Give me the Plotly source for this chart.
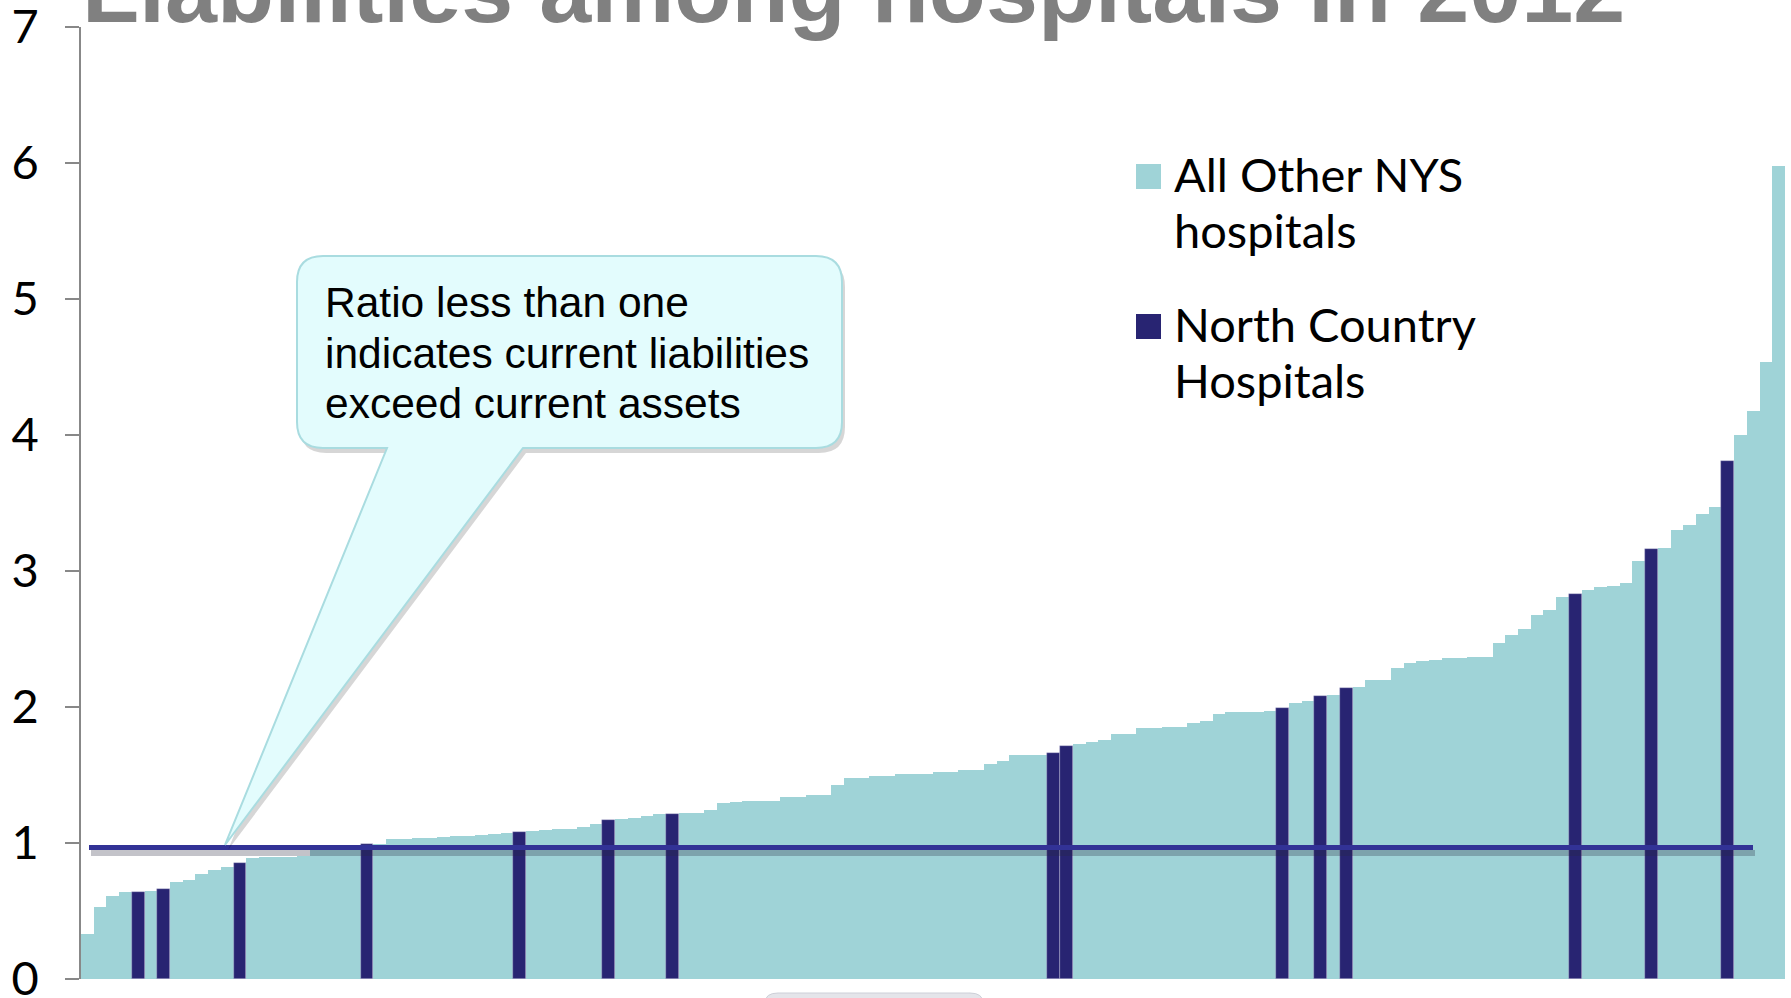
import plotly.graph_objects as go

# current ratio of every NYS hospital in 2012, sorted low -> high
ratios = [
    0.33, 0.53, 0.61, 0.64, 0.64, 0.65, 0.66, 0.71, 0.73, 0.77,
    0.80, 0.82, 0.85, 0.89, 0.895, 0.90, 0.90, 0.905, 0.95, 0.96,
    0.97, 0.97, 0.99, 0.995, 1.03, 1.03, 1.035, 1.04, 1.045, 1.05,
    1.055, 1.06, 1.065, 1.07, 1.08, 1.09, 1.095, 1.10, 1.105, 1.12,
    1.14, 1.17, 1.18, 1.185, 1.20, 1.21, 1.215, 1.22, 1.22, 1.24,
    1.295, 1.30, 1.31, 1.31, 1.31, 1.34, 1.34, 1.355, 1.355, 1.43,
    1.48, 1.48, 1.495, 1.495, 1.51, 1.51, 1.51, 1.525, 1.525, 1.54,
    1.54, 1.58, 1.60, 1.645, 1.645, 1.645, 1.66, 1.71, 1.725, 1.74,
    1.76, 1.80, 1.805, 1.845, 1.845, 1.85, 1.855, 1.885, 1.90, 1.95,
    1.96, 1.965, 1.965, 1.97, 1.99, 2.03, 2.045, 2.08, 2.085, 2.14,
    2.15, 2.195, 2.20, 2.285, 2.32, 2.34, 2.345, 2.36, 2.36, 2.365,
    2.37, 2.47, 2.53, 2.57, 2.68, 2.71, 2.81, 2.83, 2.86, 2.88,
    2.89, 2.91, 3.07, 3.16, 3.17, 3.30, 3.34, 3.42, 3.47, 3.81,
    4.00, 4.18, 4.54, 5.98,
]
# positions (rank) of the North Country hospitals in the sorted list
north_country_ranks = [4, 6, 12, 22, 34, 41, 46, 76, 77, 94, 97, 99, 117, 123, 129]

y_ticks = [0, 1, 2, 3, 4, 5, 6, 7]
threshold = 0.967  # the drawn "ratio = 1" line sits a hair under 1 on the slide

title_text = "Liabilities among hospitals in 2012"
callout_lines = ["Ratio less than one", "indicates current liabilities", "exceed current assets"]
legend_labels = [["All Other NYS", "hospitals"], ["North Country", "Hospitals"]]

teal = "#9FD3D7"
navy = "#282472"
line_blue = "#323296"

W, H = 1791, 998
L, R, T, B = 81, 6, 27, 19
pw, ph = W - L - R, H - T - B


def px(x):
    return (x - L) / pw


def py(y):
    return (H - B - y) / ph


def path(points):
    # points are (cmd, x, y, ...) in screen pixels -> plotly paper path
    out = []
    for p in points:
        cmd, coords = p[0], p[1:]
        parts = []
        for i in range(0, len(coords), 2):
            parts.append(f"{px(coords[i]):.5f},{py(coords[i + 1]):.5f}")
        out.append(cmd + " ".join(parts))
    return " ".join(out) + " Z"


others_x = [i for i in range(len(ratios)) if i not in north_country_ranks]
others_y = [ratios[i] for i in others_x]
nc_y = [ratios[i] for i in north_country_ranks]

fig = go.Figure()
fig.add_trace(go.Bar(x=others_x, y=others_y, width=1, name="All Other NYS hospitals",
                     marker=dict(color=teal, line=dict(width=0))))
fig.add_trace(go.Bar(x=north_country_ranks, y=nc_y, width=1, name="North Country Hospitals",
                     marker=dict(color=navy, line=dict(width=0.6, color="rgba(190,190,220,0.7)"))))

shapes = []
# threshold line + its drop shadow
shapes.append(dict(type="line", xref="paper", yref="y", x0=px(91), x1=px(1755),
                   y0=threshold - 0.04, y1=threshold - 0.04,
                   line=dict(color="rgba(40,40,60,0.28)", width=6), layer="above"))
shapes.append(dict(type="line", xref="paper", yref="y", x0=px(89), x1=px(1753),
                   y0=threshold, y1=threshold,
                   line=dict(color=line_blue, width=5), layer="above"))

# callout bubble
bx0, bx1, by0, by1, r = 297, 842, 256, 448, 26
tail = (387, 523, 225, 845)


def bubble(dx=0, dy=0):
    return path([
        ("M", bx0 + r + dx, by0 + dy),
        ("L", bx1 - r + dx, by0 + dy),
        ("Q", bx1 + dx, by0 + dy, bx1 + dx, by0 + r + dy),
        ("L", bx1 + dx, by1 - r + dy),
        ("Q", bx1 + dx, by1 + dy, bx1 - r + dx, by1 + dy),
        ("L", tail[1] + dx, by1 + dy),
        ("L", tail[2] + dx, tail[3] + dy),
        ("L", tail[0] + dx, by1 + dy),
        ("L", bx0 + r + dx, by1 + dy),
        ("Q", bx0 + dx, by1 + dy, bx0 + dx, by1 - r + dy),
        ("L", bx0 + dx, by0 + r + dy),
        ("Q", bx0 + dx, by0 + dy, bx0 + r + dx, by0 + dy),
    ])


shapes.append(dict(type="path", xref="paper", yref="paper", path=bubble(3, 5),
                   fillcolor="rgba(0,0,0,0.16)", line=dict(width=0), layer="above"))
shapes.append(dict(type="path", xref="paper", yref="paper", path=bubble(),
                   fillcolor="#E3FCFD", line=dict(color="#A9DCE0", width=2), layer="above"))

# legend swatches
for k, col in enumerate([teal, navy]):
    top = 164 + k * 150
    shapes.append(dict(type="rect", xref="paper", yref="paper",
                       x0=px(1136), x1=px(1161), y0=py(top), y1=py(top + 25),
                       fillcolor=col, line=dict(width=0), layer="above"))

# bit of the next slide element peeking in at the bottom
shapes.append(dict(type="path", xref="paper", yref="paper",
                   path=path([("M", 765, 1012), ("L", 765, 1003), ("Q", 765, 993, 778, 993),
                              ("L", 970, 993), ("Q", 983, 993, 983, 1003), ("L", 983, 1012)]),
                   fillcolor="#E4E5EA", line=dict(color="#CDD0D8", width=1), layer="above"))

annotations = []
annotations.append(dict(text=f"<b>{title_text}</b>", xref="paper", yref="paper", x=px(80), y=py(-10.8),
                        xanchor="left", yanchor="middle", showarrow=False,
                        font=dict(family="Liberation Sans, Arial, sans-serif", size=93.5, color="#808080")))
for k, line in enumerate(callout_lines):
    annotations.append(dict(text=line, xref="paper", yref="paper", x=px(323), y=py(302.7 + k * 50.5),
                            xanchor="left", yanchor="middle", showarrow=False,
                            font=dict(family="Liberation Sans, Arial, sans-serif", size=42.5, color="black")))
for k, (l1, l2) in enumerate(legend_labels):
    base = 174.3 + k * 150
    for j, txt in enumerate([l1, l2]):
        annotations.append(dict(text=txt, xref="paper", yref="paper", x=px(1172), y=py(base + j * 56),
                                xanchor="left", yanchor="middle", showarrow=False,
                                font=dict(family="Lato, sans-serif", size=47, color="black")))

fig.update_layout(
    width=W, height=H,
    margin=dict(l=L, r=R, t=T, b=B, autoexpand=False),
    plot_bgcolor="white", paper_bgcolor="white",
    barmode="overlay", bargap=0,
    showlegend=False,
    shapes=shapes,
    annotations=annotations,
    xaxis=dict(range=[-0.5, len(ratios) - 0.5], showticklabels=False, showgrid=False,
               zeroline=False, showline=False, ticks="", automargin=False),
    yaxis=dict(range=[0, 7], tickvals=y_ticks, showgrid=False, zeroline=False,
               showline=True, linecolor="#888888", linewidth=1.5,
               ticks="outside", ticklen=14, tickcolor="#888888", tickwidth=1.5,
               ticklabelstandoff=17, ticklabeloverflow="allow", automargin=False,
               tickfont=dict(family="Lato, sans-serif", size=47, color="black")),
)

fig.write_html("out.html", config={"displayModeBar": False},
               post_script="document.body.style.margin='0px';")
